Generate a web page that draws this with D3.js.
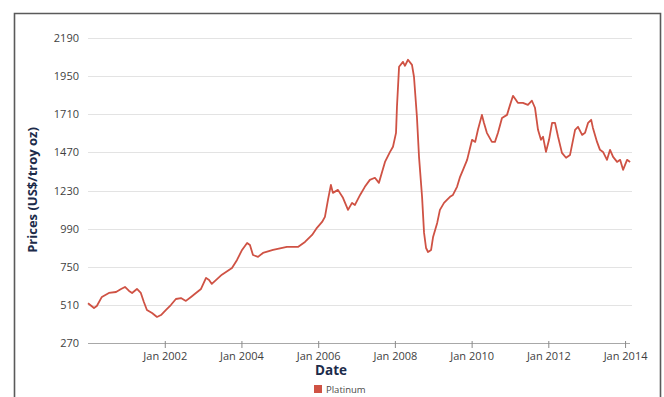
<!DOCTYPE html>
<html>
<head>
<meta charset="utf-8">
<script src="https://cdnjs.cloudflare.com/ajax/libs/d3/7.8.5/d3.min.js"></script>
<style>
  html, body { margin: 0; padding: 0; background: #fff; }
  svg { display: block; }
</style>
</head>
<body>
<svg id="chart" width="664" height="397"></svg>
<script>
// Platinum price, US$ per troy ounce
const dates = [
  "2000-01-01","2000-02-27","2000-03-25","2000-05-12","2000-07-18","2000-09-24","2000-11-11","2000-12-18",
  "2001-01-26","2001-02-24","2001-04-11","2001-05-18","2001-06-16","2001-07-15","2001-09-02","2001-10-19","2001-11-26",
  "2002-01-13","2002-02-28","2002-04-17","2002-06-04","2002-07-21","2002-09-08","2002-10-25","2002-12-12",
  "2003-01-29","2003-02-27","2003-03-25","2003-06-29","2003-10-03","2003-11-20",
  "2004-01-07","2004-02-24","2004-03-22","2004-04-20","2004-06-07","2004-07-24","2004-10-28",
  "2005-03-09","2005-06-22","2005-08-28","2005-11-04","2005-12-20",
  "2006-02-07","2006-03-06","2006-04-04","2006-05-02","2006-05-21","2006-07-08","2006-08-25","2006-10-12","2006-11-19","2006-12-17",
  "2007-02-04","2007-03-21","2007-05-08","2007-06-25","2007-08-02","2007-08-30","2007-09-29","2007-11-16","2007-12-14",
  "2008-01-12","2008-01-21","2008-02-10","2008-03-18","2008-04-06","2008-05-05","2008-06-12","2008-07-01","2008-07-29",
  "2008-08-18","2008-09-16","2008-10-05","2008-10-24","2008-11-12","2008-12-11","2008-12-30",
  "2009-02-07","2009-03-05","2009-04-13","2009-05-11","2009-06-09","2009-07-07","2009-08-15","2009-09-13","2009-10-11","2009-11-19",
  "2010-01-05","2010-02-04","2010-03-02","2010-04-09","2010-04-28","2010-05-26","2010-07-13","2010-08-11","2010-09-09","2010-10-17","2010-12-04",
  "2011-01-02","2011-01-30","2011-02-19","2011-03-17","2011-05-04","2011-06-21","2011-07-29","2011-08-27","2011-09-25","2011-10-23","2011-11-12","2011-12-10",
  "2012-01-08","2012-02-06","2012-03-05","2012-04-03","2012-05-10","2012-06-18","2012-07-26","2012-09-12","2012-10-10","2012-11-18","2012-12-16",
  "2013-01-14","2013-02-12","2013-03-01","2013-04-09","2013-05-07","2013-06-05","2013-07-13","2013-08-11","2013-09-09","2013-10-17","2013-11-15","2013-12-13",
  "2014-01-20","2014-02-18"
];
const prices = [
  520,490,503,560,585,591,610,623,
  598,585,610,585,528,478,459,434,446,
  478,509,547,553,535,560,585,610,
  680,667,642,700,742,793,
  856,900,887,824,812,837,856,
  875,875,906,950,995,
  1032,1064,1171,1265,1215,1234,1184,1108,1152,1139,
  1202,1253,1297,1310,1278,1341,1410,1473,1505,
  1593,1757,2009,2040,2015,2053,2021,1946,1694,
  1442,1190,963,868,843,856,938,
  1026,1108,1152,1171,1190,1202,1253,1316,1360,1423,
  1549,1536,1612,1706,1656,1593,1536,1536,1593,1687,1706,
  1769,1826,1807,1782,1782,1769,1795,1751,1612,1549,1568,1473,
  1549,1656,1656,1568,1467,1436,1454,1612,1631,1580,1593,
  1656,1675,1624,1536,1486,1473,1423,1486,1442,1410,1423,1360,
  1423,1410
];
const yTicks = [270, 510, 750, 990, 1230, 1470, 1710, 1950, 2190];
const xTickYears = [2002, 2004, 2006, 2008, 2010, 2012, 2014];
const seriesName = "Platinum";

const data = dates.map((d, i) => ({ date: new Date(d), value: prices[i] }));

const svg = d3.select("#chart");
const lineColor = "#cf5244";
const navy = "#1c2b4a";

// outer frame
svg.append("path")
  .attr("d", "M14.5,397 L14.5,13.5 L660.5,13.5 L660.5,397")
  .attr("fill", "none")
  .attr("stroke", "#5a5a5a")
  .attr("stroke-width", 1.6);

const x = d3.scaleUtc()
  .domain([new Date("2000-01-01"), new Date("2014-03-08")])
  .range([88, 632]);
const y = d3.scaleLinear()
  .domain([270, 2190])
  .range([343, 38]);

// horizontal grid lines
svg.append("g")
  .selectAll("line")
  .data(yTicks.filter(t => t !== 270))
  .join("line")
  .attr("x1", 88).attr("x2", 632)
  .attr("y1", d => Math.round(y(d)) + 0.5)
  .attr("y2", d => Math.round(y(d)) + 0.5)
  .attr("stroke", "#e3e3e3")
  .attr("stroke-width", 1);

// y axis labels
const yAxis = d3.axisLeft(y).tickValues(yTicks).tickSize(0).tickPadding(0).tickFormat(d3.format("d"));
const gy = svg.append("g").attr("transform", "translate(79,0)").call(yAxis);
gy.select(".domain").remove();
gy.selectAll("text")
  .attr("fill", "#3f3f3f")
  .style("font-family", "'Open Sans', sans-serif")
  .style("font-size", "11px");

// x axis
const xAxis = d3.axisBottom(x)
  .tickValues(xTickYears.map(yr => new Date(Date.UTC(yr, 0, 1))))
  .tickSize(5)
  .tickPadding(4)
  .tickFormat(d3.utcFormat("Jan %Y"));
const gx = svg.append("g").attr("transform", `translate(0,${y(270)})`).call(xAxis);
gx.select(".domain").attr("d", `M88,0.5H630`).attr("stroke", "#a8a8a8");
gx.selectAll(".tick line").attr("stroke", "#8a8a8a").attr("y1", -2);
gx.selectAll("text")
  .attr("fill", "#3f3f3f")
  .style("font-family", "'Open Sans', sans-serif")
  .style("font-size", "11px");

// price line
const line = d3.line()
  .x(d => x(d.date))
  .y(d => y(d.value))
  .curve(d3.curveLinear);
svg.append("path")
  .datum(data)
  .attr("fill", "none")
  .attr("stroke", lineColor)
  .attr("stroke-width", 1.8)
  .attr("stroke-linejoin", "round")
  .attr("d", line);

// axis titles
svg.append("text")
  .attr("transform", "translate(37,190) rotate(-90)")
  .attr("text-anchor", "middle")
  .attr("fill", navy)
  .style("font-family", "'Open Sans', sans-serif")
  .style("font-weight", "bold")
  .style("font-size", "13px")
  .text("Prices (US$/troy oz)");

svg.append("text")
  .attr("x", 331).attr("y", 375)
  .attr("text-anchor", "middle")
  .attr("fill", navy)
  .style("font-family", "'Open Sans', sans-serif")
  .style("font-weight", "bold")
  .style("font-size", "13.5px")
  .text("Date");

// legend
const legend = svg.append("g").attr("transform", "translate(314,385)");
legend.append("rect").attr("width", 8).attr("height", 8).attr("fill", lineColor);
legend.append("text")
  .attr("x", 12).attr("y", 7.5)
  .attr("fill", "#4a4a4a")
  .style("font-family", "'Open Sans', sans-serif")
  .style("font-size", "9.5px")
  .text(seriesName);
</script>
</body>
</html>
